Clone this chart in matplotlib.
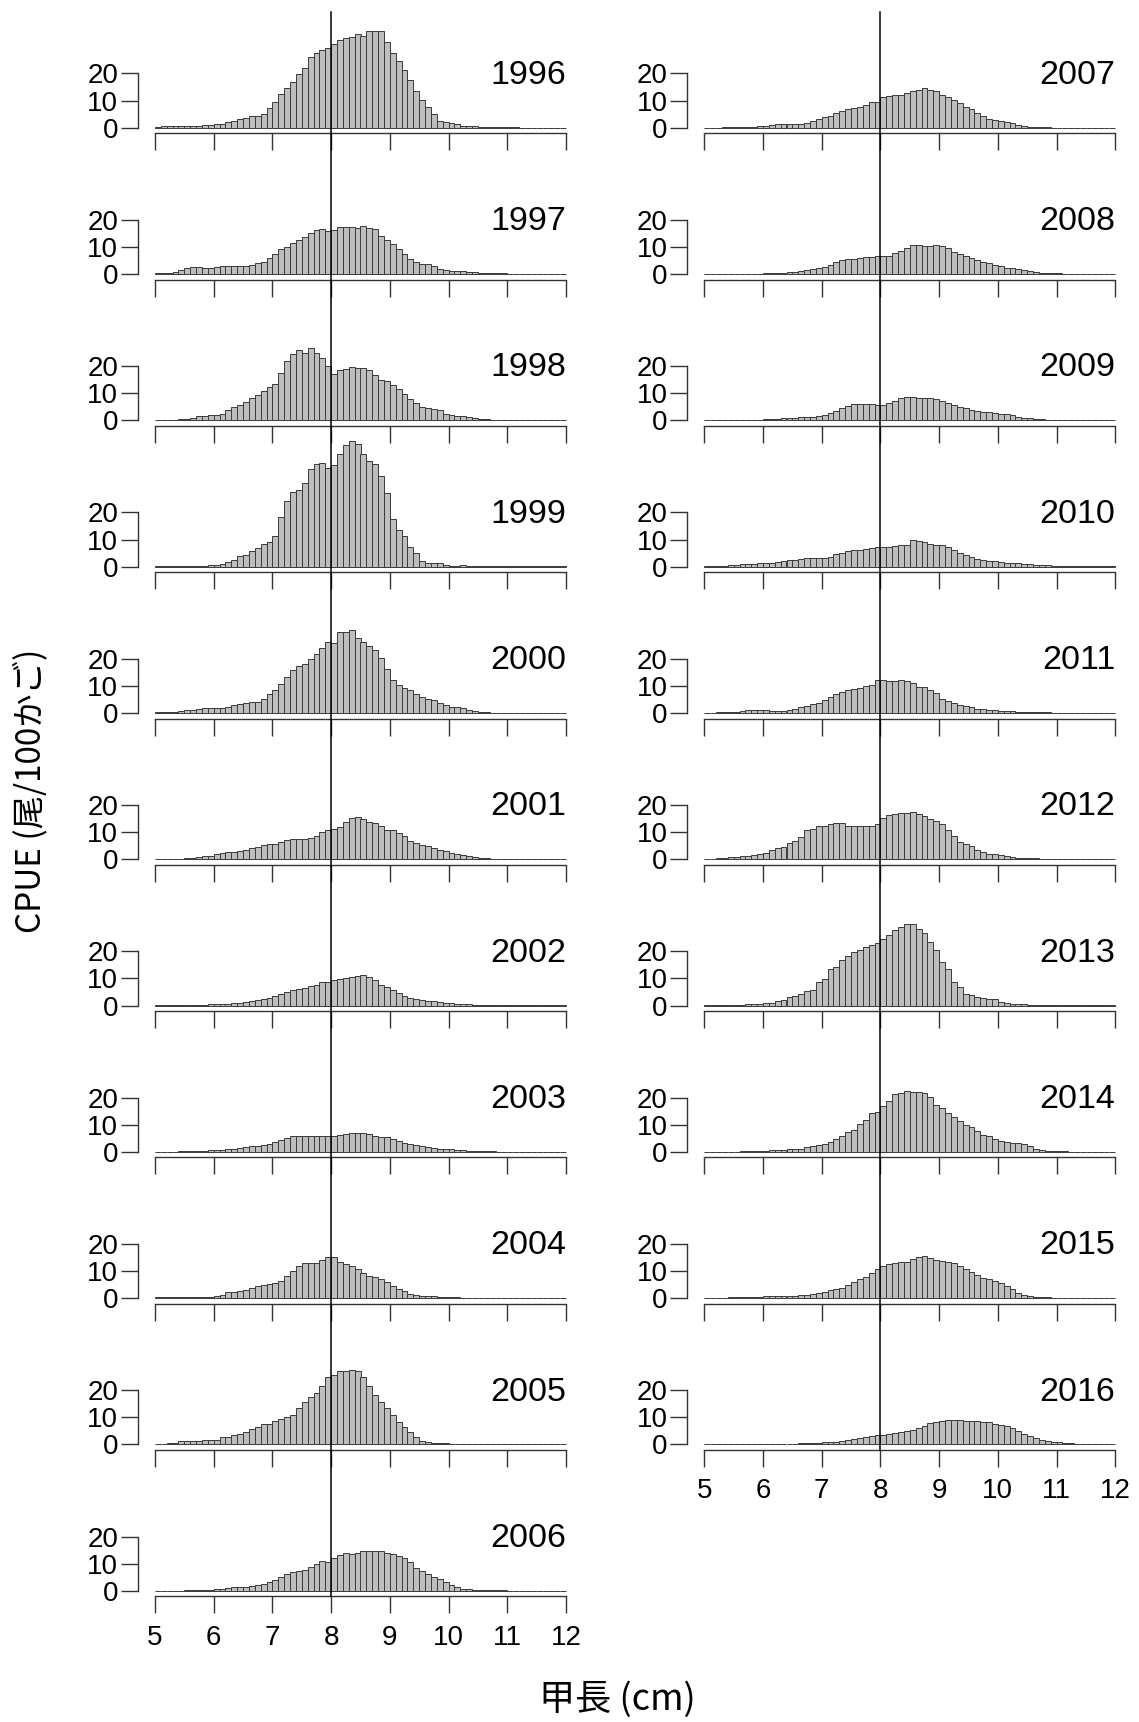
import numpy as np
import matplotlib.pyplot as plt
from matplotlib.lines import Line2D

plt.rcParams['font.family'] = ['Liberation Sans', 'DejaVu Sans']

# carapace length classes, 0.1 cm wide, left edges 5.0 ... 11.9
bin_left = 5.0 + 0.1 * np.arange(70)

# CPUE (individuals per 100 traps) by length class, one list per year
c1996 = [0.4, 0.5, 0.5, 0.5, 0.5, 0.5, 0.5, 0.6, 0.9, 1.0,
         1.2, 1.5, 2.0, 2.6, 3.2, 3.6, 4.3, 4.4, 5.2, 7.1,
         9.4, 12.3, 14.8, 16.9, 19.8, 22.1, 26.1, 27.4, 28.6, 29.4,
         31.0, 32.5, 33.0, 33.5, 34.5, 34.0, 35.8, 35.6, 35.6, 31.7,
         27.6, 24.7, 21.2, 17.5, 13.5, 10.2, 7.7, 4.9, 2.6, 2.0,
         1.6, 1.2, 0.7, 0.6, 0.5, 0.4, 0.2, 0.1, 0.1, 0.1,
         0.1, 0.1, 0.05, 0.05, 0.05, 0.05, 0.05, 0.05, 0.05, 0.05]
c1997 = [0.3, 0.4, 0.5, 0.8, 1.5, 2.2, 2.6, 2.6, 2.3, 2.3,
         2.6, 2.9, 3.0, 3.0, 2.8, 2.8, 3.4, 4.0, 4.6, 5.9,
         7.2, 9.1, 10.0, 11.5, 12.5, 13.5, 15.0, 16.2, 16.5, 16.0,
         16.2, 17.4, 17.3, 17.5, 17.0, 17.7, 17.1, 16.5, 14.0, 12.7,
         11.2, 9.4, 7.2, 5.6, 4.4, 3.8, 3.6, 2.9, 2.0, 1.5,
         1.2, 1.2, 1.0, 0.8, 0.6, 0.5, 0.4, 0.3, 0.2, 0.2,
         0.15, 0.1, 0.1, 0.1, 0.05, 0.05, 0.05, 0.05, 0.05, 0.05]
c1998 = [0.05, 0.05, 0.1, 0.2, 0.3, 0.6, 1.0, 1.5, 1.7, 1.9,
         2.0, 2.4, 3.7, 4.9, 5.8, 6.6, 8.1, 9.3, 10.8, 12.4,
         13.4, 17.4, 21.7, 24.4, 25.8, 24.8, 26.6, 25.0, 22.9, 19.9,
         17.2, 18.6, 19.0, 19.5, 19.3, 19.2, 18.6, 16.8, 14.7, 14.6,
         12.9, 11.7, 9.8, 8.0, 6.4, 4.9, 4.5, 4.2, 3.7, 2.5,
         1.8, 1.6, 1.5, 1.4, 1.0, 0.5, 0.3, 0.2, 0.1, 0.1,
         0.1, 0.05, 0.05, 0.05, 0.05, 0.05, 0.05, 0.05, 0.05, 0.05]
c1999 = [0.05, 0.05, 0.1, 0.1, 0.1, 0.2, 0.3, 0.3, 0.4, 0.5,
         0.7, 1.1, 1.8, 2.6, 3.9, 4.3, 5.6, 6.7, 8.2, 9.2,
         11.2, 18.4, 24.3, 27.7, 28.2, 30.7, 36.0, 37.8, 38.3, 36.4,
         37.4, 41.7, 44.8, 46.5, 45.4, 41.5, 39.0, 38.0, 33.6, 27.2,
         17.4, 13.5, 11.3, 7.4, 5.2, 2.2, 1.5, 1.2, 1.5, 0.6,
         0.4, 0.4, 0.5, 0.4, 0.2, 0.1, 0.1, 0.1, 0.05, 0.05,
         0.05, 0.05, 0.05, 0.05, 0.05, 0.05, 0.05, 0.05, 0.05, 0.05]
c2000 = [0.25, 0.3, 0.4, 0.5, 0.6, 0.9, 1.2, 1.6, 1.8, 1.8,
         1.7, 1.8, 2.2, 2.8, 3.3, 3.8, 3.9, 4.0, 5.0, 6.9,
         8.6, 10.6, 13.3, 15.7, 17.4, 17.9, 19.8, 21.6, 24.0, 26.1,
         25.9, 29.8, 29.7, 30.7, 27.6, 26.0, 24.7, 23.3, 20.2, 16.3,
         12.0, 10.3, 9.3, 8.3, 6.9, 5.9, 5.3, 4.9, 3.7, 2.8,
         2.2, 2.0, 1.8, 1.2, 0.7, 0.4, 0.25, 0.1, 0.1, 0.1,
         0.05, 0.05, 0.05, 0.05, 0.05, 0.05, 0.05, 0.05, 0.05, 0.05]
c2001 = [0.05, 0.05, 0.1, 0.1, 0.2, 0.3, 0.5, 0.7, 1.0, 1.35,
         1.8, 2.2, 2.6, 2.7, 3.1, 3.3, 4.0, 4.5, 5.3, 5.6,
         5.6, 6.3, 7.1, 7.5, 7.5, 7.4, 7.7, 8.6, 10.2, 10.6,
         11.0, 12.0, 13.6, 15.3, 15.5, 14.8, 13.9, 13.3, 12.4, 10.8,
         10.8, 9.8, 8.6, 6.9, 5.9, 5.4, 4.7, 4.2, 3.4, 3.1,
         2.3, 2.1, 1.6, 1.1, 0.7, 0.5, 0.4, 0.25, 0.15, 0.1,
         0.1, 0.05, 0.05, 0.05, 0.05, 0.05, 0.05, 0.05, 0.05, 0.05]
c2002 = [0.1, 0.1, 0.1, 0.1, 0.15, 0.2, 0.2, 0.2, 0.3, 0.4,
         0.5, 0.6, 0.7, 0.9, 1.1, 1.2, 1.6, 2.0, 2.5, 2.8,
         3.5, 4.2, 5.0, 5.8, 6.0, 6.5, 7.2, 7.7, 8.8, 8.8,
         9.3, 9.6, 10.2, 10.7, 11.0, 11.2, 10.4, 9.5, 7.6, 7.0,
         5.8, 4.5, 3.4, 2.8, 2.5, 2.0, 1.7, 1.5, 1.2, 1.0,
         0.8, 0.6, 0.5, 0.4, 0.3, 0.2, 0.1, 0.1, 0.1, 0.1,
         0.05, 0.05, 0.05, 0.05, 0.05, 0.05, 0.05, 0.05, 0.05, 0.05]
c2003 = [0.05, 0.05, 0.1, 0.1, 0.15, 0.2, 0.25, 0.3, 0.4, 0.5,
         0.6, 0.8, 0.9, 1.1, 1.3, 1.6, 2.0, 2.2, 2.6, 3.0,
         3.8, 4.5, 5.2, 5.7, 5.8, 5.8, 6.0, 5.8, 5.9, 5.9,
         5.7, 6.2, 6.6, 7.0, 7.1, 7.1, 6.7, 6.0, 5.6, 5.3,
         4.8, 3.9, 3.2, 3.0, 2.6, 2.3, 1.7, 1.4, 1.2, 1.0,
         0.9, 0.7, 0.5, 0.4, 0.3, 0.25, 0.2, 0.15, 0.1, 0.1,
         0.05, 0.05, 0.05, 0.05, 0.05, 0.05, 0.05, 0.05, 0.05, 0.05]
c2004 = [0.3, 0.4, 0.4, 0.5, 0.5, 0.5, 0.5, 0.5, 0.5, 0.5,
         0.6, 1.3, 2.1, 2.3, 2.6, 3.1, 3.8, 4.5, 4.8, 5.2,
         5.5, 6.4, 8.0, 10.1, 11.7, 12.8, 12.9, 13.1, 14.0, 15.1,
         15.3, 13.4, 12.4, 11.8, 10.8, 9.3, 8.1, 7.7, 7.1, 5.9,
         4.5, 3.2, 2.6, 1.6, 1.2, 0.9, 0.7, 0.6, 0.5, 0.4,
         0.3, 0.3, 0.2, 0.1, 0.1, 0.1, 0.1, 0.1, 0.05, 0.05,
         0.05, 0.05, 0.05, 0.05, 0.05, 0.05, 0.05, 0.05, 0.05, 0.05]
c2005 = [0.1, 0.2, 0.5, 0.7, 1.1, 1.2, 1.35, 1.35, 1.5, 1.6,
         1.6, 2.6, 2.9, 3.6, 3.9, 4.5, 5.6, 6.4, 7.5, 7.7,
         8.7, 9.2, 10.2, 10.8, 13.6, 15.5, 17.5, 19.1, 21.6, 24.7,
         25.5, 27.0, 27.0, 27.6, 27.1, 24.7, 21.6, 18.2, 15.8, 13.4,
         10.8, 8.1, 6.6, 4.4, 2.9, 1.35, 1.0, 0.7, 0.5, 0.35,
         0.3, 0.2, 0.2, 0.15, 0.1, 0.1, 0.1, 0.05, 0.05, 0.05,
         0.05, 0.05, 0.05, 0.05, 0.05, 0.05, 0.05, 0.05, 0.05, 0.05]
c2006 = [0.05, 0.05, 0.05, 0.05, 0.05, 0.15, 0.2, 0.2, 0.3, 0.3,
         0.5, 0.8, 1.0, 1.2, 1.3, 1.5, 1.7, 2.2, 2.6, 3.2,
         4.0, 5.1, 6.2, 6.8, 7.3, 7.5, 8.7, 9.8, 10.9, 10.6,
         12.0, 13.2, 13.8, 13.4, 13.9, 14.6, 14.8, 14.6, 14.5, 14.0,
         13.4, 12.9, 12.0, 10.5, 8.5, 7.3, 6.1, 5.2, 4.3, 3.2,
         2.2, 1.3, 0.8, 0.5, 0.3, 0.2, 0.15, 0.1, 0.1, 0.1,
         0.05, 0.05, 0.05, 0.05, 0.05, 0.05, 0.05, 0.05, 0.05, 0.05]
c2007 = [0.05, 0.05, 0.05, 0.1, 0.1, 0.1, 0.15, 0.2, 0.3, 0.5,
         0.8, 1.0, 1.2, 1.3, 1.3, 1.3, 1.4, 1.7, 2.6, 3.3,
         4.0, 4.5, 5.3, 6.1, 6.9, 7.4, 7.8, 8.5, 9.3, 9.6,
         11.5, 11.8, 12.1, 12.1, 12.8, 13.6, 14.0, 14.6, 14.0, 13.5,
         12.2, 11.5, 10.1, 9.2, 7.6, 6.9, 5.6, 4.3, 3.2, 2.9,
         2.6, 2.1, 1.6, 1.1, 0.5, 0.3, 0.2, 0.1, 0.1, 0.05,
         0.05, 0.05, 0.05, 0.05, 0.05, 0.05, 0.05, 0.05, 0.05, 0.05]
c2008 = [0.05, 0.05, 0.05, 0.05, 0.05, 0.05, 0.1, 0.1, 0.1, 0.1,
         0.2, 0.3, 0.4, 0.5, 0.6, 0.8, 1.1, 1.4, 1.7, 2.2,
         2.5, 3.4, 4.6, 5.3, 5.6, 5.7, 5.9, 6.3, 6.4, 6.5,
         6.5, 6.8, 7.8, 8.6, 9.5, 10.6, 10.6, 10.5, 10.4, 10.6,
         10.5, 9.7, 8.1, 7.4, 6.8, 6.0, 5.2, 4.6, 4.1, 3.5,
         2.8, 2.3, 2.2, 2.0, 1.5, 1.2, 0.8, 0.4, 0.2, 0.2,
         0.2, 0.15, 0.1, 0.1, 0.1, 0.05, 0.05, 0.05, 0.05, 0.05]
c2009 = [0.05, 0.05, 0.05, 0.1, 0.1, 0.1, 0.15, 0.15, 0.2, 0.2,
         0.3, 0.4, 0.5, 0.7, 0.8, 1.0, 1.2, 1.3, 1.4, 1.7,
         2.1, 2.8, 3.4, 4.6, 5.3, 5.9, 6.0, 6.0, 5.9, 5.6,
         5.7, 6.2, 7.1, 8.2, 8.6, 8.5, 8.4, 8.4, 8.3, 7.9,
         7.3, 6.5, 5.7, 5.0, 4.4, 3.9, 3.6, 3.2, 2.9, 2.6,
         2.4, 2.3, 1.8, 1.3, 1.0, 0.8, 0.5, 0.3, 0.2, 0.15,
         0.1, 0.1, 0.05, 0.05, 0.05, 0.05, 0.05, 0.05, 0.05, 0.05]
c2010 = [0.1, 0.2, 0.3, 0.4, 0.5, 0.6, 0.9, 1.0, 1.1, 1.3,
         1.2, 1.5, 1.8, 2.0, 2.3, 2.6, 2.8, 3.1, 3.1, 3.0,
         3.2, 3.6, 4.5, 5.1, 5.6, 6.0, 6.2, 6.6, 7.0, 7.1,
         7.2, 7.4, 7.6, 7.8, 8.0, 9.9, 9.4, 9.0, 8.2, 8.0,
         7.8, 7.2, 6.2, 5.0, 4.2, 3.4, 2.7, 2.3, 2.2, 2.0,
         1.6, 1.3, 1.3, 1.3, 1.1, 0.8, 0.7, 0.6, 0.5, 0.4,
         0.3, 0.3, 0.2, 0.15, 0.1, 0.1, 0.05, 0.05, 0.05, 0.05]
c2011 = [0.05, 0.1, 0.2, 0.3, 0.4, 0.5, 0.8, 1.0, 1.2, 1.2,
         1.0, 0.8, 0.8, 0.8, 1.0, 1.4, 2.2, 2.7, 3.1, 3.6,
         4.9, 5.8, 7.1, 7.6, 8.5, 8.8, 9.3, 9.8, 10.3, 12.0,
         12.0, 11.8, 11.6, 12.0, 11.8, 11.2, 9.6, 9.6, 8.6, 7.2,
         5.3, 4.4, 3.6, 3.0, 2.4, 2.0, 1.6, 1.4, 1.1, 0.9,
         0.8, 0.6, 0.7, 0.5, 0.4, 0.35, 0.3, 0.2, 0.15, 0.1,
         0.1, 0.05, 0.05, 0.05, 0.05, 0.05, 0.05, 0.05, 0.05, 0.05]
c2012 = [0.1, 0.2, 0.3, 0.5, 0.7, 0.9, 1.0, 1.3, 1.5, 1.9,
         2.4, 3.3, 4.2, 4.6, 5.8, 6.9, 8.2, 10.7, 11.3, 12.4,
         12.2, 13.1, 13.4, 13.2, 12.4, 12.3, 12.3, 12.3, 12.4, 13.1,
         15.3, 16.3, 16.7, 16.9, 17.0, 17.3, 16.7, 16.0, 14.8, 14.1,
         12.9, 10.6, 8.6, 6.2, 5.6, 4.8, 3.5, 2.5, 2.1, 1.8,
         1.5, 1.1, 0.7, 0.5, 0.4, 0.3, 0.3, 0.25, 0.2, 0.2,
         0.15, 0.1, 0.1, 0.05, 0.05, 0.05, 0.05, 0.05, 0.05, 0.05]
c2013 = [0.05, 0.05, 0.1, 0.1, 0.15, 0.2, 0.3, 0.4, 0.5, 0.7,
         0.9, 1.1, 1.5, 2.1, 3.1, 3.6, 4.3, 5.2, 5.8, 8.7,
         9.9, 13.4, 14.1, 16.9, 18.3, 19.6, 20.6, 21.5, 22.3, 23.1,
         24.5, 26.1, 27.7, 29.0, 30.1, 30.1, 28.2, 26.9, 23.3, 20.4,
         16.2, 13.5, 8.5, 6.7, 4.2, 3.7, 3.1, 2.8, 2.5, 2.3,
         1.4, 0.8, 0.6, 0.5, 0.4, 0.3, 0.25, 0.2, 0.1, 0.1,
         0.1, 0.05, 0.05, 0.05, 0.05, 0.05, 0.05, 0.05, 0.05, 0.05]
c2014 = [0.05, 0.05, 0.05, 0.1, 0.1, 0.1, 0.15, 0.15, 0.2, 0.3,
         0.4, 0.5, 0.6, 0.8, 0.9, 1.1, 1.2, 1.8, 2.2, 2.6,
         2.9, 3.5, 4.9, 6.0, 7.2, 8.0, 10.2, 11.8, 14.3, 14.8,
         16.8, 18.9, 21.3, 21.8, 22.6, 22.1, 22.2, 21.6, 20.2, 17.4,
         16.2, 14.3, 12.7, 11.2, 10.0, 9.1, 7.6, 6.2, 5.7, 4.8,
         4.1, 3.6, 3.3, 3.1, 2.7, 2.0, 1.0, 0.6, 0.4, 0.3,
         0.2, 0.15, 0.1, 0.1, 0.05, 0.05, 0.05, 0.05, 0.05, 0.05]
c2015 = [0.05, 0.1, 0.1, 0.2, 0.3, 0.4, 0.5, 0.5, 0.5, 0.5,
         0.7, 0.6, 0.6, 0.6, 0.8, 0.9, 1.1, 1.3, 1.5, 1.8,
         2.3, 2.9, 3.3, 3.7, 4.9, 5.8, 7.0, 7.9, 9.2, 10.6,
         12.0, 12.6, 13.1, 13.4, 13.4, 14.5, 15.2, 15.6, 14.8, 14.2,
         13.7, 13.4, 12.9, 11.7, 10.8, 9.8, 8.7, 7.6, 6.9, 6.3,
         5.6, 4.6, 3.2, 1.9, 1.2, 0.8, 0.4, 0.3, 0.25, 0.2,
         0.2, 0.15, 0.1, 0.1, 0.05, 0.05, 0.05, 0.05, 0.05, 0.05]
c2016 = [0.05, 0.05, 0.05, 0.05, 0.05, 0.1, 0.1, 0.1, 0.1, 0.15,
         0.15, 0.2, 0.2, 0.25, 0.3, 0.3, 0.4, 0.5, 0.6, 0.7,
         0.8, 0.9, 1.0, 1.2, 1.7, 2.0, 2.3, 2.8, 3.2, 3.4,
         3.5, 3.7, 4.1, 4.7, 5.0, 5.2, 5.9, 6.7, 7.8, 8.3,
         8.8, 9.1, 9.1, 8.9, 8.6, 8.6, 8.6, 8.4, 8.1, 7.6,
         7.2, 6.9, 6.0, 5.0, 4.0, 3.2, 2.5, 1.6, 1.2, 1.0,
         0.8, 0.6, 0.4, 0.3, 0.2, 0.15, 0.1, 0.1, 0.05, 0.05]

left_years = [1996, 1997, 1998, 1999, 2000, 2001, 2002, 2003, 2004, 2005, 2006]
left_data = [c1996, c1997, c1998, c1999, c2000, c2001, c2002, c2003, c2004, c2005, c2006]
right_years = [2007, 2008, 2009, 2010, 2011, 2012, 2013, 2014, 2015, 2016]
right_data = [c2007, c2008, c2009, c2010, c2011, c2012, c2013, c2014, c2015, c2016]

W, H = 1139, 1722
fig = plt.figure(figsize=(W / 100, H / 100), dpi=100)

unit = 2.71        # pixels per CPUE unit
row_step = 146.3   # pixels between panel baselines
base0 = 127.7      # baseline of the first row, px from top
col_left = [155, 704.3]
col_w = 411
ylo = -2.1
px = 0.72          # points per pixel

bar_kw = dict(width=0.1, align='edge', color='#bebebe', edgecolor='#3a3a3a',
              linewidth=0.7, clip_on=False)


def panel(col, row, year, vals, last):
    base = base0 + row * row_step
    bot = base - ylo * unit
    hgt = (20 - ylo) * unit
    ax = fig.add_axes([col_left[col] / W, 1 - bot / H, col_w / W, hgt / H])
    ax.bar(bin_left, vals, **bar_kw)
    ax.set_xlim(5, 12)
    ax.set_ylim(ylo, 20)
    for s in ['top', 'right']:
        ax.spines[s].set_visible(False)
    ax.spines['left'].set_bounds(0, 20)
    ax.spines['left'].set_position(('outward', 17 * px))
    for s in ['left', 'bottom']:
        ax.spines[s].set_color('#333333')
        ax.spines[s].set_linewidth(1.0)
    ax.set_yticks([0, 10, 20])
    ax.set_xticks(range(5, 13))
    ax.tick_params(axis='both', direction='out', length=17 * px, width=1.0,
                   color='#333333', labelsize=20)
    ax.tick_params(axis='y', pad=2)
    ax.tick_params(axis='x', pad=8, labelbottom=last)
    ax.patch.set_visible(False)
    ax.text(12, 19.3, str(year), ha='right', va='center', fontsize=24.5)
    return base


for i, (yr, v) in enumerate(zip(left_years, left_data)):
    panel(0, i, yr, v, i == len(left_years) - 1)
for i, (yr, v) in enumerate(zip(right_years, right_data)):
    panel(1, i, yr, v, i == len(right_years) - 1)

# reference line at 8 cm running through each column
for col, nrow in [(0, len(left_years)), (1, len(right_years))]:
    x = (col_left[col] + 3 * col_w / 7) / W
    y_end = base0 + (nrow - 1) * row_step - ylo * unit
    fig.add_artist(Line2D([x, x], [1 - 12 / H, 1 - y_end / H],
                          transform=fig.transFigure, color='black', lw=1.1))

cjk = ['Noto Sans CJK JP', 'DejaVu Sans']
fig.text(31 / W, 1 - 791 / H, 'CPUE (尾/100かご)', rotation=90, ha='center',
         va='center', fontsize=24, family=cjk)
fig.text(617 / W, 1 - 1700 / H, '甲長 (cm)', ha='center', va='center',
         fontsize=26, family=cjk)

fig.savefig('out.png', dpi=100)
